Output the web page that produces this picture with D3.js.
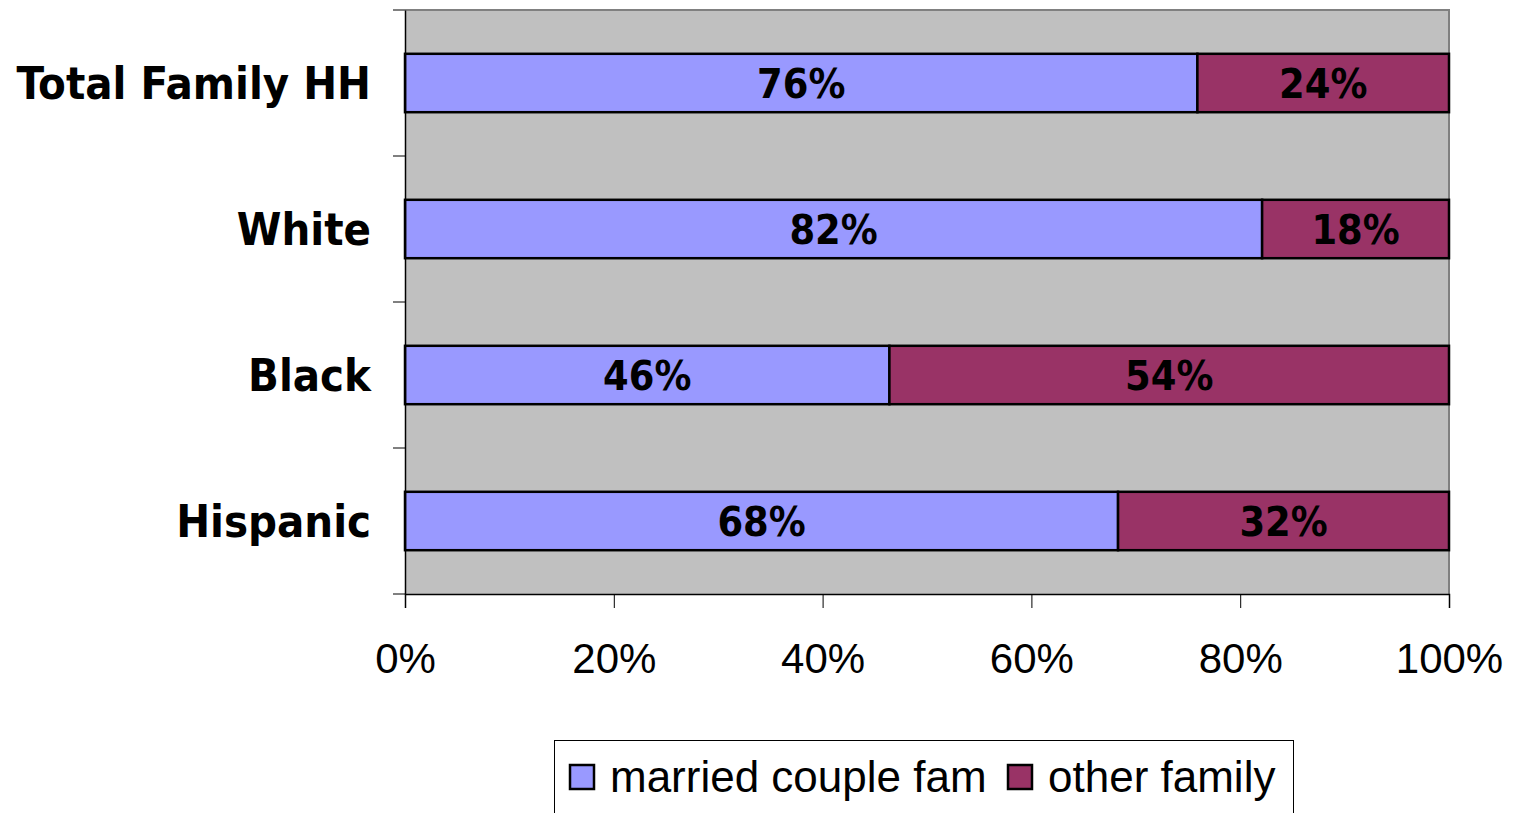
<!DOCTYPE html>
<html>
<head>
<meta charset="utf-8">
<script src="https://cdn.jsdelivr.net/npm/d3@7"></script>
<style>
  body { margin: 0; background: #fff; }
  svg { display: block; }
</style>
</head>
<body>
<div id="chart"></div>
<script>
// data
var categories = ["Total Family HH", "White", "Black", "Hispanic"];
var married = [75.9, 82.1, 46.4, 68.3];
var other = [24.1, 17.9, 53.6, 31.7];
var seriesNames = ["married couple fam", "other family"];
var xTicks = [0, 20, 40, 60, 80, 100];

var W = 1513, H = 813;
var plot = {left: 405, right: 1449, top: 10, bottom: 594};

var svg = d3.select("#chart").append("svg")
    .attr("width", W)
    .attr("height", H);

var x = d3.scaleLinear().domain([0, 100]).range([plot.left, plot.right]);
var y = d3.scaleBand().domain(categories).range([plot.top, plot.bottom])
    .paddingInner(0.6).paddingOuter(0.3);
var yb = d3.scaleBand().domain(categories).range([plot.top, plot.bottom]);

var colors = ["#9999FF", "#993366"];
var boldFont = "DejaVu Sans Condensed, DejaVu Sans";

// plot area
svg.append("rect")
    .attr("x", plot.left)
    .attr("y", plot.top)
    .attr("width", plot.right - plot.left)
    .attr("height", plot.bottom - plot.top)
    .attr("fill", "#C0C0C0");
svg.append("path")
    .attr("d", "M" + plot.left + "," + plot.top + "H" + plot.right + "V" + plot.bottom)
    .attr("fill", "none")
    .attr("stroke", "#808080")
    .attr("stroke-width", 2);

// stacked bars
var rows = categories.map(function(c, i) {
    return {cat: c, parts: [[0, married[i]], [married[i], married[i] + other[i]]]};
});

rows.forEach(function(r) {
    r.parts.forEach(function(p, j) {
        svg.append("rect")
            .attr("x", x(p[0]))
            .attr("y", y(r.cat))
            .attr("width", x(p[1]) - x(p[0]))
            .attr("height", y.bandwidth())
            .attr("fill", colors[j])
            .attr("stroke", "#000")
            .attr("stroke-width", 2.5);
        svg.append("text")
            .attr("x", (x(p[0]) + x(p[1])) / 2)
            .attr("y", y(r.cat) + y.bandwidth() / 2)
            .attr("dy", "0.36em")
            .attr("text-anchor", "middle")
            .style("font-family", boldFont)
            .style("font-weight", "bold")
            .style("font-size", "41px")
            .attr("fill", "#000")
            .text(Math.round(p[1] - p[0]) + "%");
    });
});

// y axis
var yAxis = svg.append("g")
    .attr("transform", "translate(" + plot.left + ",0)")
    .call(d3.axisLeft(yb).tickSize(0).tickFormat(""));
yAxis.select(".domain").attr("stroke", "#000").attr("stroke-width", 1.5);
// category boundary ticks
var bounds = [0, 1, 2, 3, 4].map(function(i) { return plot.top + i * yb.step(); });
svg.selectAll(".ytick").data(bounds).enter().append("line")
    .attr("x1", plot.left - 12).attr("x2", plot.left)
    .attr("y1", function(d) { return d; }).attr("y2", function(d) { return d; })
    .attr("stroke", "#000").attr("stroke-width", 1);

svg.selectAll(".ylab").data(categories).enter().append("text")
    .attr("x", 371)
    .attr("y", function(d) { return yb(d) + yb.bandwidth() / 2; })
    .attr("dy", "0.36em")
    .attr("text-anchor", "end")
    .style("font-family", boldFont)
    .style("font-weight", "bold")
    .style("font-size", "45px")
    .text(function(d) { return d; });

// x axis
var xAxis = svg.append("g")
    .attr("transform", "translate(0," + plot.bottom + ")")
    .call(d3.axisBottom(x).tickValues(xTicks).tickSize(14).tickPadding(35)
        .tickFormat(function(d) { return d + "%"; }));
xAxis.select(".domain").attr("stroke", "#000").attr("stroke-width", 1.5);
xAxis.selectAll(".tick line").attr("stroke", "#000");
xAxis.selectAll(".tick text")
    .style("font-family", "Liberation Sans, Arial")
    .style("font-size", "42px")
    .attr("fill", "#000");

// legend
var legend = svg.append("g");
legend.append("rect")
    .attr("x", 554.5).attr("y", 740.5)
    .attr("width", 739).attr("height", 90)
    .attr("fill", "#fff").attr("stroke", "#000").attr("stroke-width", 1);
var legX = [570, 1008];
seriesNames.forEach(function(s, i) {
    legend.append("rect")
        .attr("x", legX[i]).attr("y", 765)
        .attr("width", 24).attr("height", 24)
        .attr("fill", colors[i]).attr("stroke", "#000").attr("stroke-width", 2.5);
    legend.append("text")
        .attr("x", legX[i] + 40).attr("y", 776)
        .attr("dy", "0.36em")
        .style("font-family", "Liberation Sans, Arial")
        .style("font-size", "44px")
        .text(s);
});
</script>
</body>
</html>
